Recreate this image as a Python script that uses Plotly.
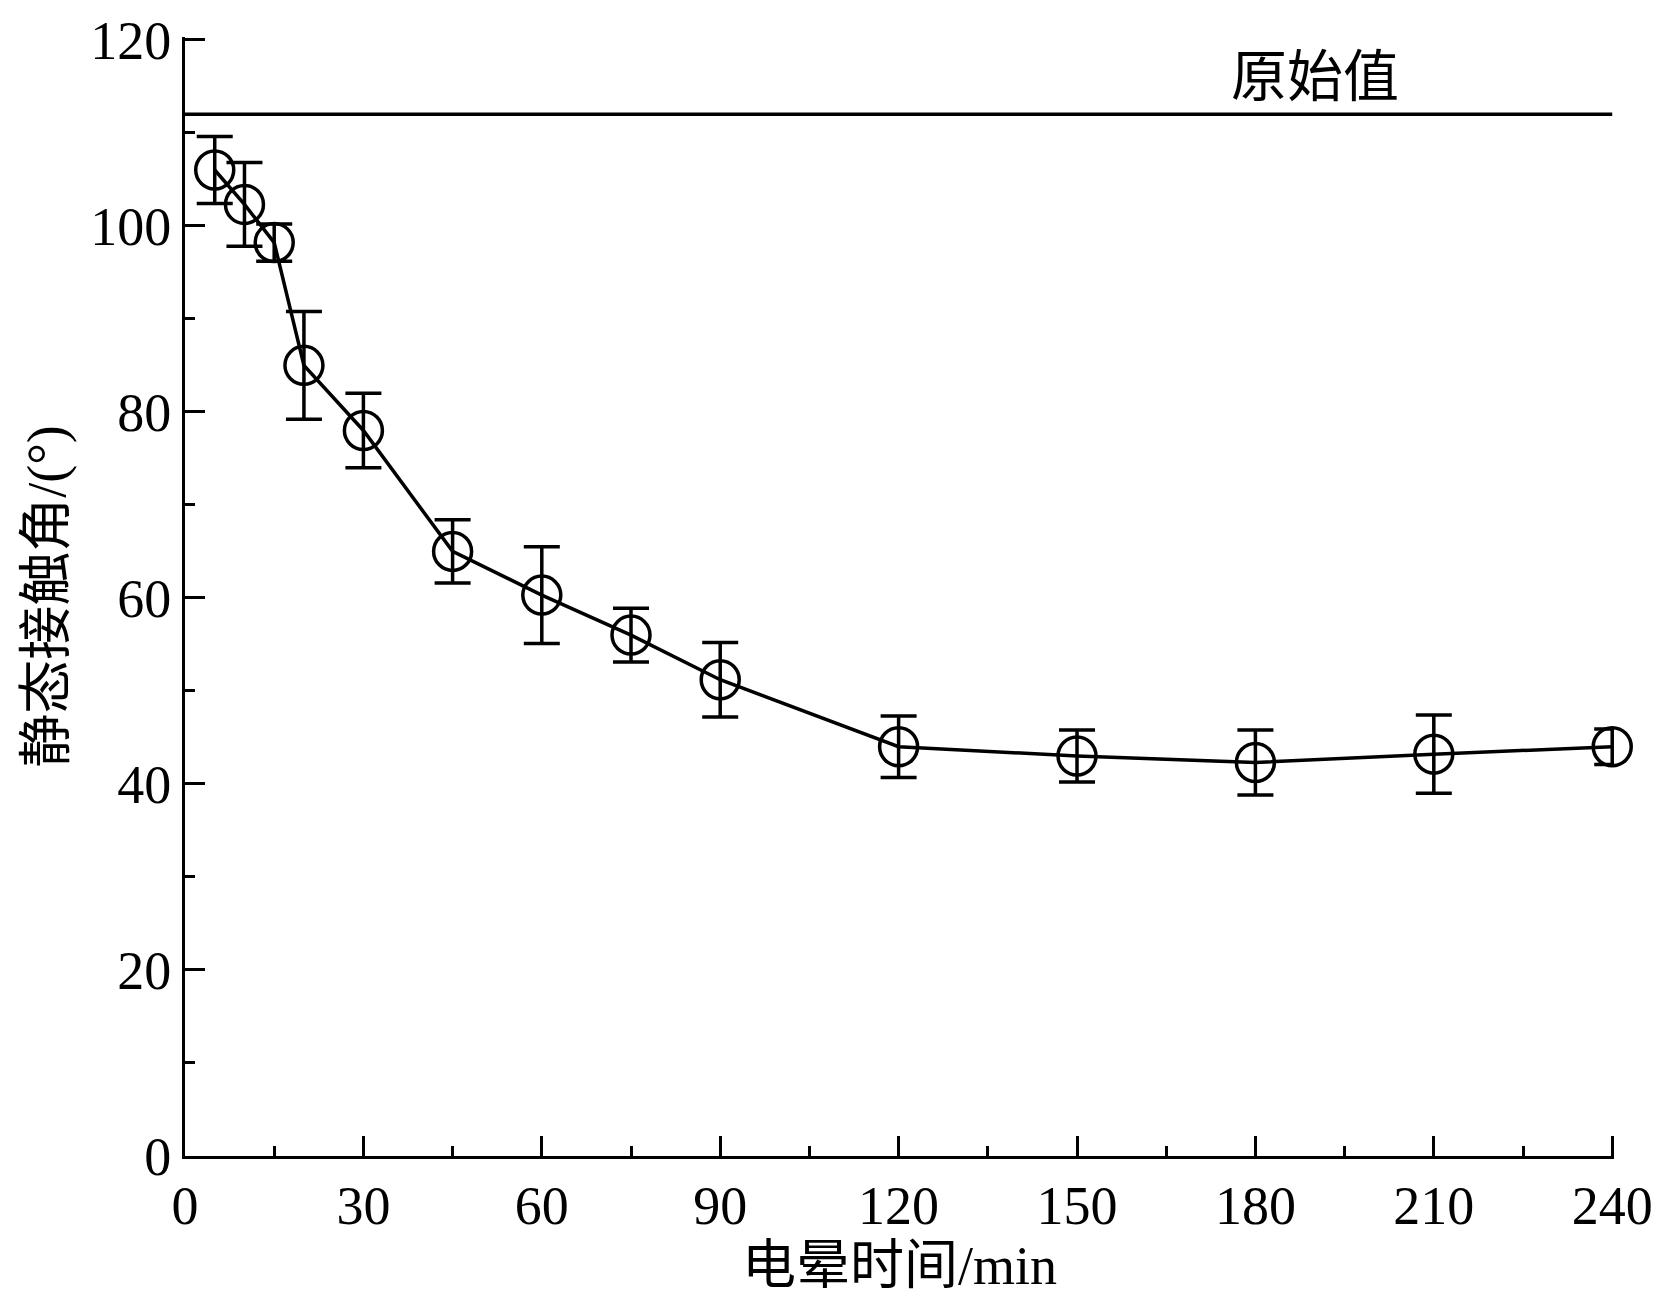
import plotly.graph_objects as go

x = [5, 10, 15, 20, 30, 45, 60, 75, 90, 120, 150, 180, 210, 240]
y = [106, 102.3, 98.2, 85, 78, 65, 60.3, 56, 51.2, 44, 43, 42.3, 43.2, 44]
err = [3.6, 4.5, 2, 5.8, 4, 3.4, 5.2, 2.9, 4, 3.3, 2.8, 3.5, 4.2, 1.9]
orig = 112
xticks = [0, 30, 60, 90, 120, 150, 180, 210, 240]
yticks = [0, 20, 40, 60, 80, 100, 120]

font = "Liberation Serif, Noto Sans CJK SC"
fig = go.Figure()
fig.add_trace(go.Scatter(x=[0, 240], y=[orig, orig], mode="lines", cliponaxis=False,
                         line=dict(color="black", width=3.5), showlegend=False))
fig.add_trace(go.Scatter(x=x, y=y, mode="lines+markers", cliponaxis=False,
                         line=dict(color="black", width=3.5),
                         marker=dict(symbol="circle-open", size=38, color="black", line=dict(width=3.5)),
                         error_y=dict(type="data", array=err, color="black", thickness=3.5, width=18),
                         showlegend=False))
fig.add_annotation(x=190, y=116, text="原始值", showarrow=False,
                   font=dict(size=56, family=font, color="black"))
axis = dict(showline=True, linecolor="black", linewidth=3, ticks="inside", ticklen=20,
            tickwidth=2.5, tickcolor="black", showgrid=False, zeroline=False, automargin=False,
            tickfont=dict(size=54, family=font, color="black"), tickmode="array")
minor = dict(ticks="inside", ticklen=10, tickwidth=2.5, tickcolor="black")
fig.update_xaxes(**axis, range=[0, 240.3], tickvals=xticks,
                 minor=dict(**minor, dtick=15, tick0=0),
                 title=dict(text="电晕时间/min", font=dict(size=54, family=font, color="black"), standoff=8))
fig.update_yaxes(**axis, range=[0, 120.3], tickvals=yticks,
                 minor=dict(**minor, dtick=10, tick0=0),
                 title=dict(text="静态接触角/(°)", font=dict(size=54, family=font, color="black"), standoff=8))
fig.update_layout(width=1662, height=1312, plot_bgcolor="white", paper_bgcolor="white",
                  margin=dict(l=177, r=56, t=29, b=164))
fig.write_html("out.html")
